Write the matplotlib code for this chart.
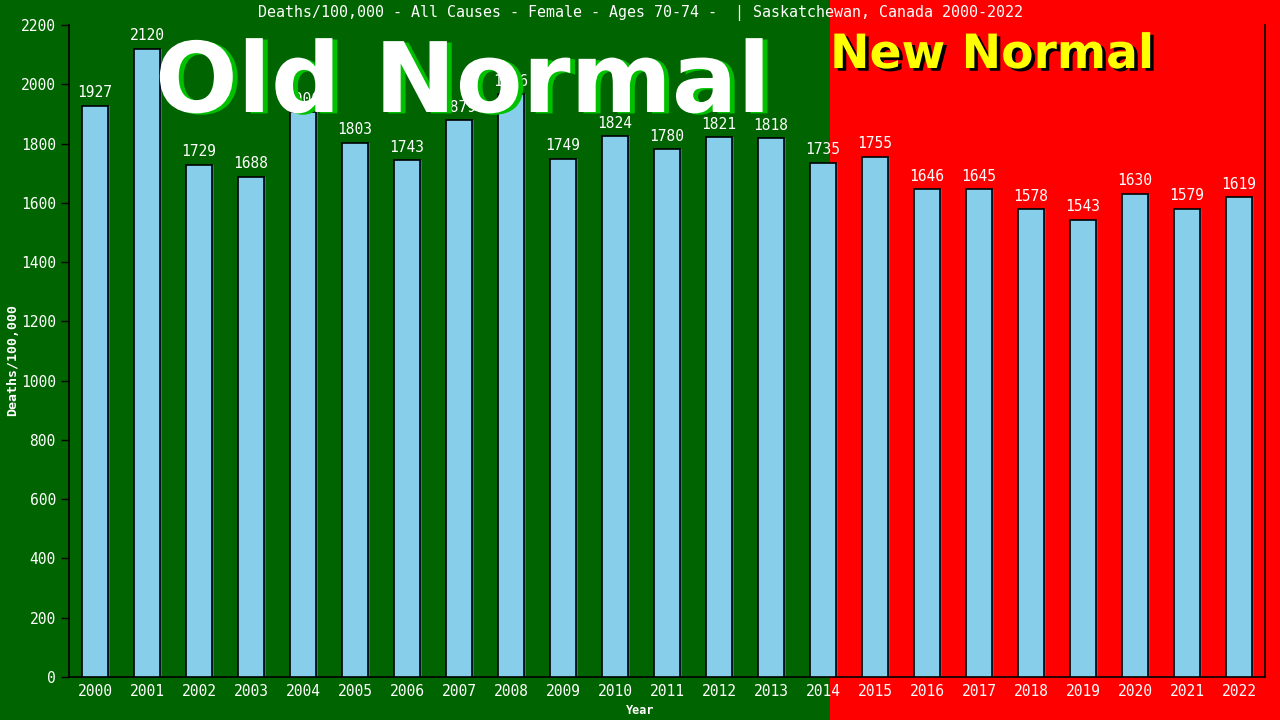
import numpy as np
import matplotlib.pyplot as plt
import matplotlib.patheffects as pe
from matplotlib.patches import Rectangle

years = list(range(2000, 2023))
deaths = [1927, 2120, 1729, 1688, 1906, 1803, 1743, 1879, 1966, 1749,
          1824, 1780, 1821, 1818, 1735, 1755, 1646, 1645, 1578, 1543,
          1630, 1579, 1619]
yticks = list(range(0, 2201, 200))

title = "Deaths/100,000 - All Causes - Female - Ages 70-74 -  | Saskatchewan, Canada 2000-2022"
mono = 'DejaVu Sans Mono'

fig = plt.figure(figsize=(12.8, 7.2), dpi=100, facecolor='#006400')
# red "new normal" half of the background, kept behind the axes
fig.patches.append(Rectangle((830 / 1280, 0), 1 - 830 / 1280, 1, transform=fig.transFigure,
                             facecolor='#ff0000', edgecolor='none', zorder=-10))

ax = fig.add_axes([69 / 1280, 43 / 720, (1265 - 69) / 1280, (677 - 25) / 720])
ax.set_facecolor('none')
ax.set_zorder(1)

x = np.arange(len(years))
# thin blue shadow on the right of each bar
ax.bar(x + 0.035, deaths, width=0.5, color='#1e6fd0', edgecolor='none', zorder=2)
ax.bar(x, deaths, width=0.5, color='#87ceeb', edgecolor='black', linewidth=1.2, zorder=3)

for xi, v in zip(x, deaths):
    ax.annotate(str(v), (xi, v), xytext=(0, 4), textcoords='offset points',
                ha='center', va='bottom', color='white', fontsize=10.5, family=mono, zorder=4)

ax.set_xlim(-0.5, len(years) - 0.5)
ax.set_ylim(0, 2200)
ax.set_yticks(yticks)
ax.set_xticks(x)
ax.set_xticklabels([str(y) for y in years])
ax.tick_params(axis='y', colors='black', labelcolor='white', length=6, width=1, labelsize=10.5)
ax.tick_params(axis='x', length=0, labelcolor='white', labelsize=10.5, pad=5)
for lab in ax.get_xticklabels() + ax.get_yticklabels():
    lab.set_family(mono)

ax.spines['top'].set_visible(False)
for s in ['left', 'right', 'bottom']:
    ax.spines[s].set_color('black')
    ax.spines[s].set_linewidth(1.2)

fig.text(0.5, 10 / 720, 'Year', ha='center', va='center', color='white',
         fontsize=8.5, family=mono, fontweight='bold')
fig.text(13 / 1280, 0.5, 'Deaths/100,000', ha='center', va='center', rotation=90,
         color='white', fontsize=9.5, family=mono, fontweight='bold')

fig.text(0.5, 1 - 13 / 720, title, ha='center', va='center', color='white',
         fontsize=10.8, family=mono)

fig.text(155 / 1280, 1 - 112 / 720, 'Old Normal', ha='left', va='baseline', color='white',
         fontsize=70, fontweight='bold', family='DejaVu Sans', zorder=5,
         path_effects=[pe.SimplePatchShadow(offset=(3.5, -1), shadow_rgbFace='#00c000', alpha=1),
                       pe.Normal()])
fig.text(830 / 1280, 1 - 68 / 720, 'New Normal', ha='left', va='baseline', color='#ffff00',
         fontsize=34, fontweight='bold', family='DejaVu Sans', zorder=5,
         path_effects=[pe.SimplePatchShadow(offset=(2.5, -2), shadow_rgbFace='black', alpha=1),
                       pe.Normal()])

fig.savefig('out.png', dpi=100, facecolor=fig.get_facecolor())
